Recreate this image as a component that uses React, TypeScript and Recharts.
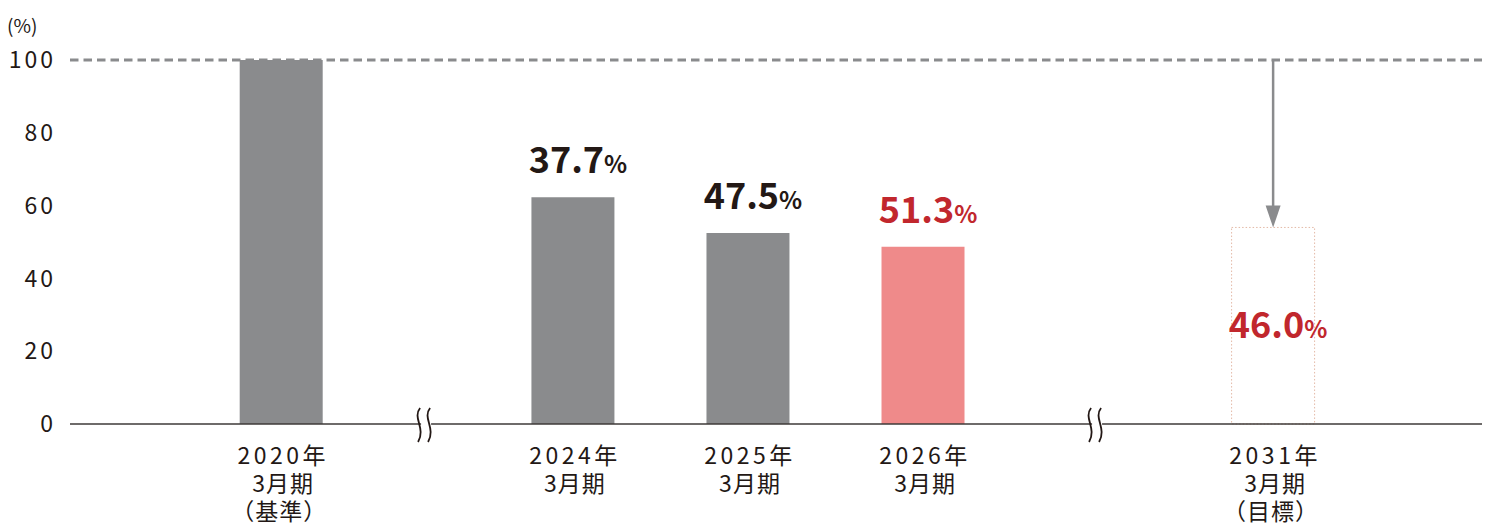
import React from 'react';
import {
  ComposedChart,
  Bar,
  XAxis,
  YAxis,
  Cell,
  LabelList,
  ReferenceLine,
  ReferenceDot,
} from 'recharts';

const years = ['2020年', '2024年', '2025年', '2026年', '2031年'];
const periods = ['3月期', '3月期', '3月期', '3月期', '3月期'];
const notes = ['（基準）', '', '', '', '（目標）'];
// index vs. FY2020 base (=100)
const indexValues = [100, 62.3, 52.5, 48.7, 54.0];
// reduction rate shown above each bar
const reductions: (number | null)[] = [null, 37.7, 47.5, 51.3, 46.0];
const yTicks = [0, 20, 40, 60, 80, 100];

// horizontal slots (break marks sit between non-contiguous years)
const SLOTS = [0, 5, 8, 11, 17];
const BREAKS = [2.5, 14];

const FONT = '"Noto Sans CJK JP", "Noto Sans", sans-serif';
const INK = '#231815';
const RED = '#c1272d';
const GRAY = '#8a8b8d';

const chartData = years.map((year, i) => ({
  pos: SLOTS[i],
  year,
  period: periods[i],
  note: notes[i],
  value: indexValues[i],
  reduction: reductions[i],
}));

const XTick = ({ x, y, payload }: any) => {
  const i = SLOTS.indexOf(payload.value);
  if (i < 0) return null;
  const d = chartData[i];
  const lines = [d.year, d.period, d.note].filter(Boolean);
  return (
    <g transform={`translate(${x},${y})`}>
      {lines.map((t, k) => (
        <text
          key={k}
          x={k === 2 ? -2 : 2}
          y={38 + k * 28}
          textAnchor="middle"
          fill={INK}
          fontSize={23}
          fontFamily={FONT}
          letterSpacing={k === 0 ? 3.5 : 1}
        >
          {t}
        </text>
      ))}
    </g>
  );
};

const ValueLabel = (props: any) => {
  const { x, y, width, height, index, value } = props;
  if (value == null) return null;
  const isTarget = index === chartData.length - 1;
  const color = index >= 3 ? RED : INK;
  const cx = x + width / 2 + 5;
  const by = isTarget ? y + height / 2 + 12 : y - 24;
  return (
    <text x={cx} y={by} textAnchor="middle" fill={color} fontFamily={FONT} fontWeight={700}>
      <tspan fontSize={36}>{Number(value).toFixed(1)}</tspan>
      <tspan fontSize={24}>%</tspan>
    </text>
  );
};

const BreakMark = ({ cx, cy }: any) => {
  if (cx == null || cy == null) return null;
  const wave = (ox: number) =>
    `M${ox + 2},${cy - 16} C${ox - 6},${cy - 6} ${ox + 8},${cy + 4} ${ox},${cy + 18}`;
  return (
    <g>
      <rect x={cx - 6} y={cy - 3} width={10} height={6} fill="#fff" />
      <path d={wave(cx - 9)} stroke={INK} strokeWidth={1.8} fill="none" />
      <path d={wave(cx + 1)} stroke={INK} strokeWidth={1.8} fill="none" />
    </g>
  );
};

const Arrow = ({ x1, y1, x2, y2 }: any) => {
  if (x1 == null) return null;
  const head = 22;
  return (
    <g>
      <line x1={x1} y1={y1} x2={x2} y2={y2 - head + 2} stroke={GRAY} strokeWidth={2.5} />
      <polygon
        points={`${x2 - 7.5},${y2 - head} ${x2 + 7.5},${y2 - head} ${x2},${y2}`}
        fill={GRAY}
      />
    </g>
  );
};

export default function App() {
  return (
    <div style={{ position: 'absolute', left: 0, top: 0, width: 1495, height: 530, background: '#fff' }}>
      <span
        style={{
          position: 'absolute',
          left: 7,
          top: 12,
          fontSize: 19,
          fontFamily: FONT,
          color: INK,
          lineHeight: '26px',
        }}
      >
        (%)
      </span>
      <ComposedChart
        width={1495}
        height={530}
        data={chartData}
        margin={{ top: 60, right: 13, left: 0, bottom: 0 }}
      >
        <XAxis
          dataKey="pos"
          type="number"
          domain={[-3.62, 20.58]}
          ticks={SLOTS}
          interval={0}
          allowDataOverflow
          height={106}
          tickLine={false}
          tickSize={0}
          axisLine={{ stroke: '#3e3a39', strokeWidth: 1.6 }}
          tick={<XTick />}
        />
        <YAxis
          domain={[0, 100]}
          ticks={yTicks}
          width={70}
          axisLine={false}
          tickLine={false}
          tickSize={0}
          tickMargin={14}
          tick={{ fontSize: 23, fill: INK, fontFamily: FONT, letterSpacing: 3 }}
        />
        <Bar dataKey="value" barSize={83} isAnimationActive={false}>
          {chartData.map((d, i) => {
            if (i === chartData.length - 1) {
              return (
                <Cell
                  key={`cell-${i}`}
                  fill="none"
                  stroke="#e3b9a6"
                  strokeWidth={1}
                  strokeDasharray="1.5 2"
                />
              );
            }
            return <Cell key={`cell-${i}`} fill={i === 3 ? '#ef8a8a' : GRAY} />;
          })}
          <LabelList dataKey="reduction" content={<ValueLabel />} />
        </Bar>
        <ReferenceLine y={100} stroke={GRAY} strokeWidth={3} strokeDasharray="8.5 5" />
        <ReferenceLine
          segment={[
            { x: SLOTS[4], y: 100 },
            { x: SLOTS[4], y: indexValues[4] },
          ]}
          shape={<Arrow />}
        />
        {BREAKS.map((b) => (
          <ReferenceDot key={b} x={b} y={0} r={0} shape={<BreakMark />} />
        ))}
      </ComposedChart>
    </div>
  );
}
